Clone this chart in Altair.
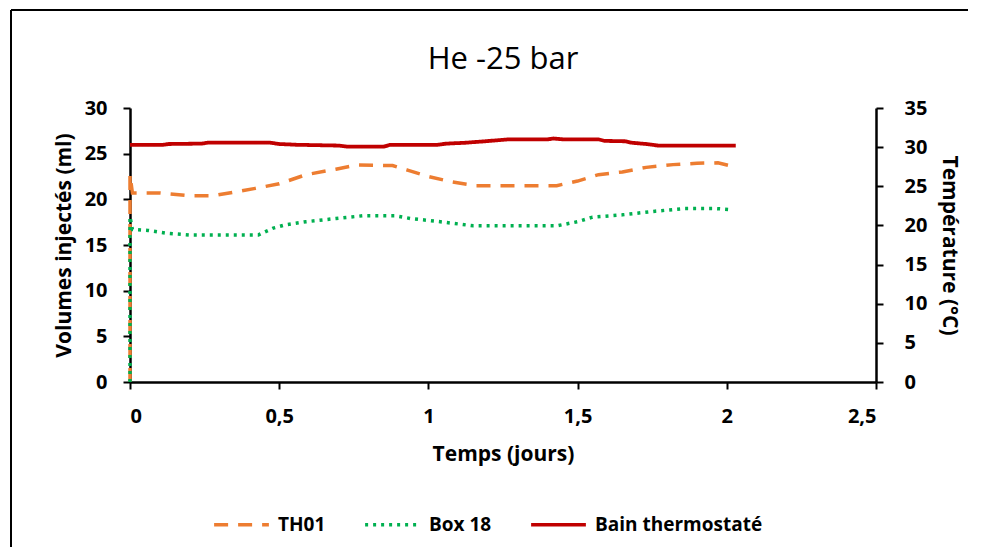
import altair as alt
import pandas as pd

# ---- data ----
SERIES = ["TH01", "Box 18", "Bain thermostaté"]
COLORS = ["#ED7D31", "#00B050", "#C00000"]
DASHES = [[14, 10], [3, 5], [1, 0]]

TH01_T = [0.0, 0.0, 0.008, 0.10, 0.20, 0.28, 0.35, 0.42, 0.50, 0.59, 0.69, 0.76, 0.88, 0.93, 1.00,
          1.08, 1.16, 1.23, 1.43, 1.50, 1.57, 1.65, 1.73, 1.82, 1.90, 1.97, 2.02]
TH01_V = [0.0, 22.7, 20.7, 20.7, 20.4, 20.4, 20.8, 21.2, 21.7, 22.7, 23.3, 23.75, 23.7, 23.2, 22.5,
          21.9, 21.5, 21.5, 21.5, 22.0, 22.7, 23.0, 23.5, 23.8, 23.95, 24.0, 23.6]

BOX18_T = [0.0, 0.0, 0.008, 0.06, 0.12, 0.20, 0.43, 0.48, 0.52, 0.59, 0.69, 0.78, 0.89, 0.94, 1.04,
           1.15, 1.43, 1.50, 1.55, 1.65, 1.76, 1.86, 1.96, 2.02]
BOX18_V = [0.0, 18.1, 16.7, 16.6, 16.3, 16.1, 16.1, 16.85, 17.2, 17.55, 17.9, 18.2, 18.2, 17.9, 17.55,
           17.1, 17.1, 17.55, 18.05, 18.3, 18.7, 19.0, 19.0, 18.85]

BAIN_T = [0.0, 0.11, 0.13, 0.24, 0.26, 0.47, 0.50, 0.56, 0.70, 0.73, 0.85, 0.87, 1.03, 1.06, 1.12,
          1.19, 1.27, 1.40, 1.42, 1.45, 1.57, 1.59, 1.66, 1.68, 1.73, 1.77, 2.03]
BAIN_V = [30.28, 30.3, 30.4, 30.45, 30.57, 30.57, 30.4, 30.3, 30.2, 30.06, 30.06, 30.28, 30.3, 30.45, 30.55,
          30.75, 31.0, 31.0, 31.1, 31.0, 31.0, 30.8, 30.75, 30.57, 30.4, 30.2, 30.2]

X_TICKS = [0, 0.5, 1, 1.5, 2, 2.5]
Y_LEFT_TICKS = [0, 5, 10, 15, 20, 25, 30]
Y_RIGHT_TICKS = [0, 5, 10, 15, 20, 25, 30, 35]

FONT = "Open Sans"

left_df = pd.DataFrame({
    "t": TH01_T + BOX18_T,
    "v": TH01_V + BOX18_V,
    "serie": [SERIES[0]] * len(TH01_T) + [SERIES[1]] * len(BOX18_T),
    "ord": list(range(len(TH01_T))) + list(range(len(BOX18_T))),
})
right_df = pd.DataFrame({
    "t": BAIN_T,
    "v": BAIN_V,
    "serie": [SERIES[2]] * len(BAIN_T),
    "ord": list(range(len(BAIN_T))),
})

x_enc = alt.X("t:Q", scale=alt.Scale(domain=[0, 2.5], nice=False),
              axis=alt.Axis(values=X_TICKS, title="Temps (jours)",
                            labelExpr="replace(format(datum.value, '~g'), '.', ',')",
                            labelPadding=17, titlePadding=17))

legend = alt.Legend(title=None, orient="none", legendX=82, legendY=387,
                    direction="horizontal", symbolType="stroke",
                    symbolSize=3000, symbolStrokeWidth=3.5,
                    labelFont=FONT, labelFontSize=19, labelFontWeight="bold",
                    labelColor="black", labelOffset=7, columnPadding=32, labelLimit=400)

color_enc = alt.Color("serie:N", scale=alt.Scale(domain=SERIES, range=COLORS), legend=legend)
dash_enc = alt.StrokeDash("serie:N", scale=alt.Scale(domain=SERIES, range=DASHES), legend=legend)

left_layer = alt.Chart(left_df).mark_line(strokeWidth=3.5).encode(
    x=x_enc,
    y=alt.Y("v:Q", scale=alt.Scale(domain=[0, 30], nice=False),
            axis=alt.Axis(values=Y_LEFT_TICKS, orient="left", title="Volumes injectés (ml)",
                          labelPadding=16, titlePadding=10)),
    color=color_enc,
    strokeDash=dash_enc,
    detail="serie:N",
    order="ord:Q",
)

right_layer = alt.Chart(right_df).mark_line(strokeWidth=3.8).encode(
    x=x_enc,
    y=alt.Y("v:Q", scale=alt.Scale(domain=[0, 35], nice=False),
            axis=alt.Axis(values=Y_RIGHT_TICKS, orient="right", title="Température (°C)",
                          labelPadding=21, titlePadding=12)),
    color=color_enc,
    strokeDash=dash_enc,
    order="ord:Q",
)

frame_df = pd.DataFrame({"k": [0]})
frame_top = alt.Chart(frame_df).mark_rule(color="black", strokeWidth=2).encode(
    x=alt.value(-119), x2=alt.value(880), y=alt.value(-98))
frame_left = alt.Chart(frame_df).mark_rule(color="black", strokeWidth=2).encode(
    x=alt.value(-119), y=alt.value(-98), y2=alt.value(470))

chart = alt.layer(left_layer, right_layer, frame_top, frame_left).resolve_scale(
    y="independent"
).properties(
    width=746,
    height=274,
    background="white",
    autosize=alt.AutoSizeParams(type="none"),
    padding={"left": 122, "top": 100, "right": 92, "bottom": 165},
    title=alt.Title("He -25 bar", font=FONT, fontSize=31, fontWeight="normal",
                    color="black", anchor="middle", frame="group", offset=0, dy=67),
).configure_view(stroke=None).configure_axis(
    grid=False,
    domainColor="black", domainWidth=2.5,
    tickColor="black", tickWidth=2, tickSize=7,
    labelFont=FONT, labelFontSize=20, labelFontWeight="bold", labelColor="black",
    titleFont=FONT, titleFontSize=21, titleFontWeight="bold", titleColor="black",
)

chart.save("out.html", embed_options={"renderer": "svg", "actions": False})
